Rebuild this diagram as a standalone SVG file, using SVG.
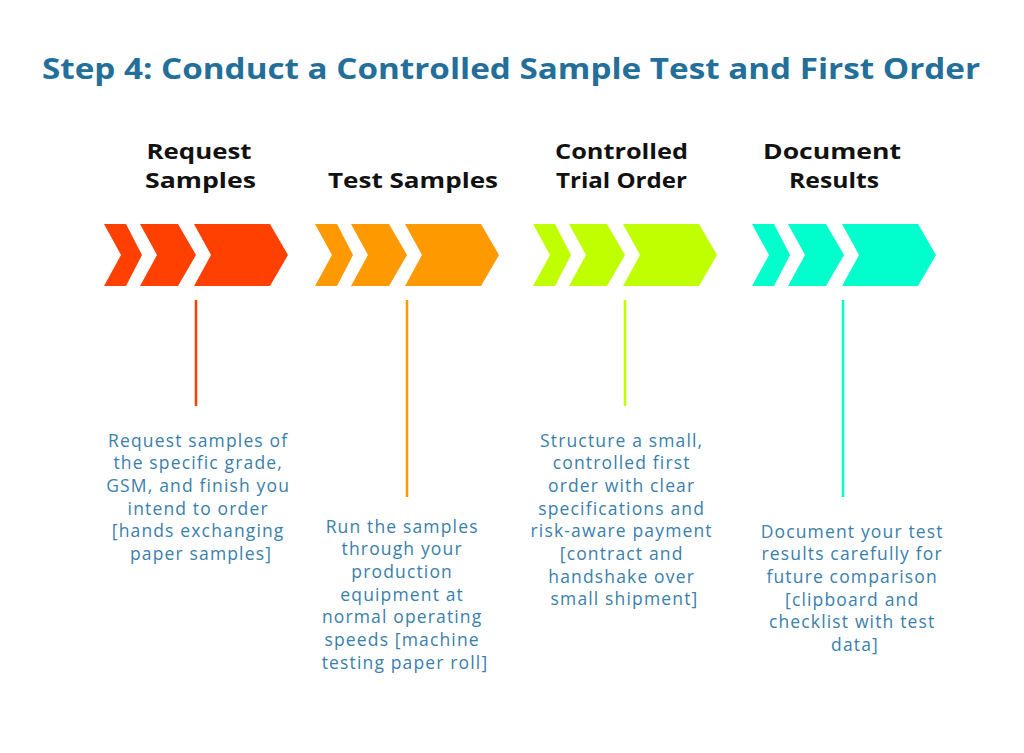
<svg xmlns="http://www.w3.org/2000/svg" width="1024" height="753" viewBox="0 0 1024 753">
<defs>
<style>
.title{font-family:"Open Sans","Liberation Sans",sans-serif;font-weight:700;font-size:29px;fill:#236f99;text-anchor:middle}
.head{font-family:"Open Sans","Liberation Sans",sans-serif;font-weight:700;font-size:20.5px;fill:#111;text-anchor:middle}
.body{font-family:"Open Sans","Liberation Sans",sans-serif;font-size:17.5px;letter-spacing:1.15px;fill:#3a80ab;text-anchor:middle}
.stem{stroke-width:2.5;fill:none}
</style>
<g id="chev">
<polygon points="0,0 22,0 38,31 22,62 0,62 17,31"/>
<polygon points="36,0 74,0 92,31 74,62 36,62 53,31"/>
<polygon points="90,0 166,0 184,31 166,62 90,62 107,31"/>
</g>
</defs>
<rect width="1024" height="753" fill="#fff"/>
<text class="title" x="511" y="79" textLength="938" lengthAdjust="spacingAndGlyphs">Step 4: Conduct a Controlled Sample Test and First Order</text>

<g id="connectors">
<line class="stem" x1="196" y1="300" x2="196" y2="406" stroke="#ff4000"/>
<line class="stem" x1="407" y1="300" x2="407" y2="497" stroke="#ff9900"/>
<line class="stem" x1="625" y1="300" x2="625" y2="406" stroke="#bfff00"/>
<line class="stem" x1="843" y1="300" x2="843" y2="497" stroke="#00ffcc"/>
</g>

<g id="step1">
<text class="head" x="199" y="159" textLength="105" lengthAdjust="spacingAndGlyphs">Request</text>
<text class="head" x="200.5" y="188" textLength="111" lengthAdjust="spacingAndGlyphs">Samples</text>
<use href="#chev" x="104" y="224" fill="#ff4000"/>
<text class="body" x="201" y="446.5">
<tspan x="201">Request samples of</tspan>
<tspan x="201" dy="22.7">the specific grade,</tspan>
<tspan x="201" dy="22.7">GSM, and finish you</tspan>
<tspan x="201" dy="22.7">intend to order</tspan>
<tspan x="201" dy="22.7">[hands exchanging</tspan>
<tspan x="201" dy="22.7">paper samples]</tspan>
</text>
</g>

<g id="step2">
<text class="head" x="413" y="188" textLength="170" lengthAdjust="spacingAndGlyphs">Test Samples</text>
<use href="#chev" x="315" y="224" fill="#ff9900"/>
<text class="body" x="405" y="532.5">
<tspan x="405">Run the samples</tspan>
<tspan x="405" dy="22.7">through your</tspan>
<tspan x="405" dy="22.7">production</tspan>
<tspan x="405" dy="22.7">equipment at</tspan>
<tspan x="405" dy="22.7">normal operating</tspan>
<tspan x="405" dy="22.7">speeds [machine</tspan>
<tspan x="405" dy="22.7">testing paper roll]</tspan>
</text>
</g>

<g id="step3">
<text class="head" x="621.5" y="159" textLength="133" lengthAdjust="spacingAndGlyphs">Controlled</text>
<text class="head" x="621.5" y="188" textLength="131" lengthAdjust="spacingAndGlyphs">Trial Order</text>
<use href="#chev" x="533" y="224" fill="#bfff00"/>
<text class="body" x="624.5" y="446.5">
<tspan x="624.5">Structure a small,</tspan>
<tspan x="624.5" dy="22.7">controlled first</tspan>
<tspan x="624.5" dy="22.7">order with clear</tspan>
<tspan x="624.5" dy="22.7">specifications and</tspan>
<tspan x="624.5" dy="22.7">risk-aware payment</tspan>
<tspan x="624.5" dy="22.7">[contract and</tspan>
<tspan x="624.5" dy="22.7">handshake over</tspan>
<tspan x="624.5" dy="22.7">small shipment]</tspan>
</text>
</g>

<g id="step4">
<text class="head" x="832" y="159" textLength="138" lengthAdjust="spacingAndGlyphs">Document</text>
<text class="head" x="834" y="188" textLength="90" lengthAdjust="spacingAndGlyphs">Results</text>
<use href="#chev" x="752" y="224" fill="#00ffcc"/>
<text class="body" x="855" y="537.5">
<tspan x="855">Document your test</tspan>
<tspan x="855" dy="22.7">results carefully for</tspan>
<tspan x="855" dy="22.7">future comparison</tspan>
<tspan x="855" dy="22.7">[clipboard and</tspan>
<tspan x="855" dy="22.7">checklist with test</tspan>
<tspan x="855" dy="22.7">data]</tspan>
</text>
</g>
</svg>
